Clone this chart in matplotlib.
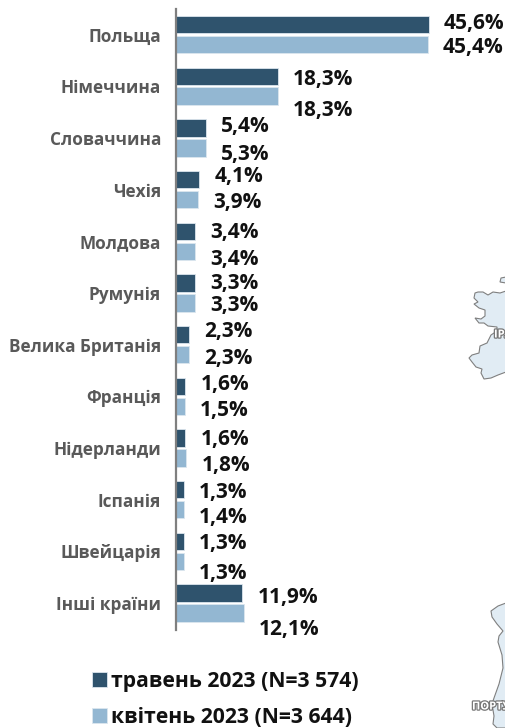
# -*- coding: utf-8 -*-
import matplotlib
matplotlib.use("Agg")
import matplotlib.pyplot as plt
import matplotlib.patheffects as pe
import numpy as np
from matplotlib.patches import Polygon

plt.rcParams["font.family"] = ["Open Sans", "DejaVu Sans"]

# ---------------------------------------------------------
# Data
# ---------------------------------------------------------
countries = ["Польща", "Німеччина", "Словаччина", "Чехія", "Молдова", "Румунія",
             "Велика Британія", "Франція", "Нідерланди", "Іспанія", "Швейцарія", "Інші країни"]
may_2023 = [45.6, 18.3, 5.4, 4.1, 3.4, 3.3, 2.3, 1.6, 1.6, 1.3, 1.3, 11.9]
apr_2023 = [45.4, 18.3, 5.3, 3.9, 3.4, 3.3, 2.3, 1.5, 1.8, 1.4, 1.3, 12.1]
may_label = "травень 2023 (N=3 574)"
apr_label = "квітень 2023 (N=3 644)"

# value labels are hand-placed in the original, shift in px from the bar centre
may_shift = [-1.5, 3, -1, -3, 1, 1, -3, -2, 1, 3, 2, 4]
apr_shift = [3.5, 14, 7, 3, 8, 3, 4, 4, 7, 8, 12, 16]

DARK = "#2F536D"
LIGHT = "#93B7D2"
W, H = 506, 728

fig = plt.figure(figsize=(W / 100, H / 100), dpi=100)

# ---------------------------------------------------------
# Cropped map fragments in the background (figure pixels)
# ---------------------------------------------------------
bg = fig.add_axes([0, 0, 1, 1], zorder=0)
bg.set_xlim(0, W)
bg.set_ylim(H, 0)
bg.axis("off")

ireland = [(506, 291), (500, 293), (493, 292), (488, 295), (483, 292), (478, 292), (475, 293),
           (474, 298), (478, 302), (474, 304), (479, 308), (485, 310), (485, 316), (481, 319),
           (475, 318), (479, 323), (484, 323), (488, 326), (497, 327), (497, 331), (491, 335),
           (487, 343), (480, 346), (479, 353), (472, 355), (469, 358), (472, 362), (476, 367),
           (482, 369), (481, 373), (484, 379), (491, 378), (498, 375), (506, 372)]
portugal = [(506, 603), (498, 606), (491, 611), (492, 617), (497, 624), (503, 631), (499, 636),
            (498, 642), (502, 655), (503, 668), (499, 684), (494, 698), (492, 704), (494, 716),
            (493, 724), (497, 728), (506, 728)]
for shape in (ireland, portugal):
    bg.add_patch(Polygon(shape, closed=True, facecolor="#E1ECF4", edgecolor="#7F7F7F", lw=0.8))
bg.add_patch(Polygon([(506, 277), (501, 278), (500, 282), (506, 283)], closed=True,
                     facecolor="#E1ECF4", edgecolor="#7F7F7F", lw=0.8))
outline = [pe.withStroke(linewidth=1.8, foreground="#777777")]
bg.text(494, 335, "ІРЛ", fontsize=8, fontweight="bold", color="white", ha="left", va="center",
        clip_on=True, path_effects=outline)
bg.text(472, 707, "ПОРТУ", fontsize=8, fontweight="bold", color="white", ha="left", va="center",
        clip_on=True, path_effects=outline)

# ---------------------------------------------------------
# Bars
# ---------------------------------------------------------
left, top, bottom = 176.5, 9, 630
ax = fig.add_axes([left / W, 1 - bottom / H, 1 - left / W, (bottom - top) / H], zorder=1)
ax.patch.set_alpha(0)

y = np.arange(len(countries))
bar_h = 0.335
gap = 0.193
b1 = ax.barh(y - gap, may_2023, height=bar_h, color=DARK, edgecolor="#DCE6EE", linewidth=0.6, label=may_label)
b2 = ax.barh(y + gap, apr_2023, height=bar_h, color=LIGHT, edgecolor="#DCE6EE", linewidth=0.6, label=apr_label)

ax.set_xlim(0, (W - left) / 5.54)
ax.set_ylim(11.52, -0.493)
ax.set_yticks(y)
ax.set_yticklabels(countries, fontsize=12.4, fontweight="bold", color="#595959")
ax.tick_params(axis="y", length=0, pad=11)
ax.set_xticks([])
for s in ["top", "right", "bottom"]:
    ax.spines[s].set_visible(False)
ax.spines["left"].set_color("#7F7F7F")
ax.spines["left"].set_linewidth(1.6)

for bars, vals, shifts in ((b1, may_2023, may_shift), (b2, apr_2023, apr_shift)):
    for bar, v, dy in zip(bars, vals, shifts):
        ax.annotate(f"{v:.1f}%".replace(".", ","),
                    xy=(v, bar.get_y() + bar.get_height() / 2),
                    xytext=(10.8, -dy * 0.72), textcoords="offset points",
                    ha="left", va="center", fontsize=15, fontweight="bold",
                    color="#111111", annotation_clip=False)

fig.legend(handles=[b1, b2], labels=[may_label, apr_label],
           loc="upper left", bbox_to_anchor=(73.5 / W, 1 - 652 / H),
           frameon=False, handlelength=0.67, handleheight=0.67,
           handletextpad=0.22, labelspacing=0.7, labelcolor="#111111",
           prop={"weight": "bold", "size": 15.2})

fig.savefig("out.png", dpi=100)
